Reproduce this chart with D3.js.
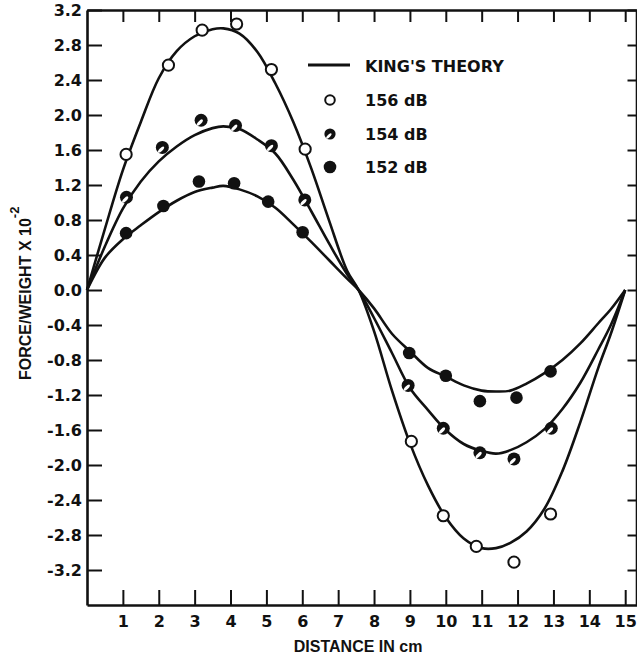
<!DOCTYPE html>
<html>
<head>
<meta charset="utf-8">
<script src="https://cdn.jsdelivr.net/npm/d3@7"></script>
<style>
  body { margin: 0; background: #fff; }
  svg { display: block; }
  .axis path, .axis line { stroke: #111; }
  .axis text { font-family: "DejaVu Sans", sans-serif; font-weight: bold; font-size: 16px; fill: #111; }
  .title { font-family: "Liberation Sans", Arial, sans-serif; font-weight: bold; font-size: 16px; fill: #111; }
  .legend text { font-family: "DejaVu Sans", sans-serif; font-weight: bold; font-size: 16px; fill: #111; }
  .theory { fill: none; stroke: #111; stroke-width: 2.6; }
</style>
</head>
<body>
<svg id="chart" width="637" height="662"></svg>
<script>
// tick values and labels
const xTicks = [1, 2, 3, 4, 5, 6, 7, 8, 9, 10, 11, 12, 13, 14, 15];
const yTicks = [3.2, 2.8, 2.4, 2.0, 1.6, 1.2, 0.8, 0.4, 0.0, -0.4, -0.8, -1.2, -1.6, -2.0, -2.4, -2.8, -3.2];
const yTickLabels = ['3.2', '2.8', '2.4', '2.0', '1.6', '1.2', '0.8', '0.4', '0.0', '-0.4', '-0.8', '-1.2', '-1.6', '-2.0', '-2.4', '-2.8', '-3.2'];

// King's theory curves
const theoryX   = [0, 0.5, 1, 1.5, 2, 2.5, 3, 3.5, 3.8, 4.25, 4.75, 5.25, 5.75, 6.25, 6.75, 7.25, 7.57,
                   8, 8.5, 9, 9.5, 10, 10.5, 11, 11.4, 11.8, 12.25, 12.75, 13.25, 13.75, 14.25, 14.6, 15];
const theory156 = [0, 0.70, 1.37, 1.92, 2.42, 2.73, 2.90, 2.98, 2.99, 2.93, 2.72, 2.36, 1.92, 1.39, 0.79, 0.22, 0,
                   -0.47, -1.15, -1.75, -2.23, -2.60, -2.84, -2.95, -2.95, -2.89, -2.76, -2.50, -2.07, -1.51, -0.89, -0.50, 0];
const theory154 = [0, 0.50, 0.93, 1.24, 1.47, 1.64, 1.77, 1.85, 1.87, 1.84, 1.72, 1.56, 1.26, 0.90, 0.53, 0.18, 0,
                   -0.32, -0.72, -1.12, -1.37, -1.60, -1.76, -1.84, -1.87, -1.83, -1.74, -1.59, -1.36, -1.06, -0.68, -0.40, 0];
const theory152 = [0, 0.37, 0.58, 0.74, 0.89, 1.02, 1.12, 1.17, 1.19, 1.15, 1.07, 0.94, 0.75, 0.55, 0.34, 0.13, 0,
                   -0.21, -0.50, -0.70, -0.89, -0.99, -1.09, -1.15, -1.16, -1.15, -1.07, -0.95, -0.80, -0.61, -0.38, -0.22, 0];

// measured points
const dist156  = [1.09, 2.27, 3.21, 4.17, 5.14, 6.08, 9.04, 9.93, 10.85, 11.9, 12.92];
const force156 = [1.55, 2.57, 2.97, 3.04, 2.52, 1.61, -1.73, -2.58, -2.93, -3.11, -2.56];
const dist154  = [1.1, 2.1, 3.18, 4.14, 5.14, 6.07, 8.95, 9.93, 10.95, 11.9, 12.94];
const force154 = [1.06, 1.63, 1.94, 1.88, 1.65, 1.03, -1.09, -1.58, -1.86, -1.93, -1.58];
const dist152  = [1.09, 2.13, 3.12, 4.1, 5.05, 6.01, 8.98, 10.0, 10.95, 11.97, 12.92];
const force152 = [0.65, 0.96, 1.24, 1.22, 1.01, 0.66, -0.72, -0.98, -1.27, -1.23, -0.93];

const legendLabels = ["KING'S THEORY", '156 dB', '154 dB', '152 dB'];

const svg = d3.select('#chart');
const margin = { left: 87, right: 0.5, top: 10, bottom: 57 };
const width = +svg.attr('width');
const height = +svg.attr('height');

const xScale = d3.scaleLinear().domain([0, 15.315]).range([margin.left, width - margin.right]);
const yScale = d3.scaleLinear().domain([-3.6, 3.2]).range([height - margin.bottom, margin.top]);

// axes, ticks pointing inward
const xAxisG = svg.append('g')
  .attr('class', 'axis')
  .attr('transform', `translate(0,${yScale(-3.6)})`)
  .call(d3.axisBottom(xScale).tickValues(xTicks).tickFormat(d3.format('d'))
    .tickSize(-15).tickSizeOuter(0).tickPadding(6));
xAxisG.selectAll('text').attr('dy', '1em');

svg.append('g')
  .attr('class', 'axis')
  .attr('transform', `translate(${xScale(15.315)},0)`)
  .call(d3.axisRight(yScale).tickValues(yTicks).tickSize(-9).tickSizeOuter(0).tickFormat(''));

svg.append('g')
  .attr('class', 'axis')
  .attr('transform', `translate(0,${yScale(3.2)})`)
  .call(d3.axisTop(xScale).tickValues(xTicks).tickSize(-12).tickSizeOuter(0).tickFormat(''));

svg.append('g')
  .attr('class', 'axis')
  .attr('transform', `translate(${xScale(0)},0)`)
  .call(d3.axisLeft(yScale).tickValues(yTicks).tickSize(-15).tickSizeOuter(0).tickPadding(5)
    .tickFormat((d, i) => yTickLabels[i]));

svg.selectAll('.axis path').attr('stroke-width', 2.6);
svg.selectAll('.axis line').attr('stroke-width', 2);

// axis titles
svg.append('text')
  .attr('class', 'title')
  .attr('x', (xScale(0) + xScale(15)) / 2 + 2)
  .attr('y', 652)
  .attr('text-anchor', 'middle')
  .text('DISTANCE IN cm');

const yTitle = svg.append('text')
  .attr('class', 'title')
  .attr('transform', 'translate(31,380) rotate(-90)');
yTitle.append('tspan').text('FORCE/WEIGHT X 10');
yTitle.append('tspan').attr('dy', -12).attr('font-size', 13).text('-2');

// theory curves
const line = d3.line()
  .x(d => xScale(d[0]))
  .y(d => yScale(d[1]))
  .curve(d3.curveCatmullRom.alpha(0.5));

[theory156, theory154, theory152].forEach(series => {
  svg.append('path')
    .attr('class', 'theory')
    .attr('d', line(theoryX.map((x, i) => [x, series[i]])));
});

// marker drawers
const openMarker = (g, r) => {
  g.append('circle').attr('r', r).attr('fill', '#fff').attr('stroke', '#111').attr('stroke-width', 2);
};
const halfMarker = (g, r) => {
  g.append('circle').attr('r', r).attr('fill', '#111');
  g.append('ellipse')
    .attr('rx', r * 0.62).attr('ry', r * 0.24)
    .attr('transform', `translate(${-r * 0.2},${r * 0.35}) rotate(-45)`)
    .attr('fill', '#fff');
};
const filledMarker = (g, r) => {
  g.append('circle').attr('r', r).attr('fill', '#111');
};

const drawPoints = (xs, ys, draw, r) => {
  const pts = svg.append('g').selectAll('g')
    .data(xs.map((x, i) => [x, ys[i]]))
    .join('g')
    .attr('transform', d => `translate(${xScale(d[0])},${yScale(d[1])})`);
  pts.each(function () { draw(d3.select(this), r); });
};

drawPoints(dist156, force156, openMarker, 5.6);
drawPoints(dist154, force154, halfMarker, 6.5);
drawPoints(dist152, force152, filledMarker, 6.3);

// legend
const legend = svg.append('g').attr('class', 'legend');
legend.append('line')
  .attr('x1', 308).attr('x2', 350).attr('y1', 65).attr('y2', 65)
  .attr('stroke', '#111').attr('stroke-width', 3);
const rowY = [66, 100, 134, 167];
legendLabels.forEach((label, i) => {
  legend.append('text').attr('x', 365).attr('y', rowY[i] + 6).text(label);
});
const drawers = [openMarker, halfMarker, filledMarker];
const legendR = [4.8, 5.6, 6.3];
drawers.forEach((draw, i) => {
  const g = legend.append('g').attr('transform', `translate(330,${rowY[i + 1]})`);
  draw(g, legendR[i]);
});
</script>
</body>
</html>
